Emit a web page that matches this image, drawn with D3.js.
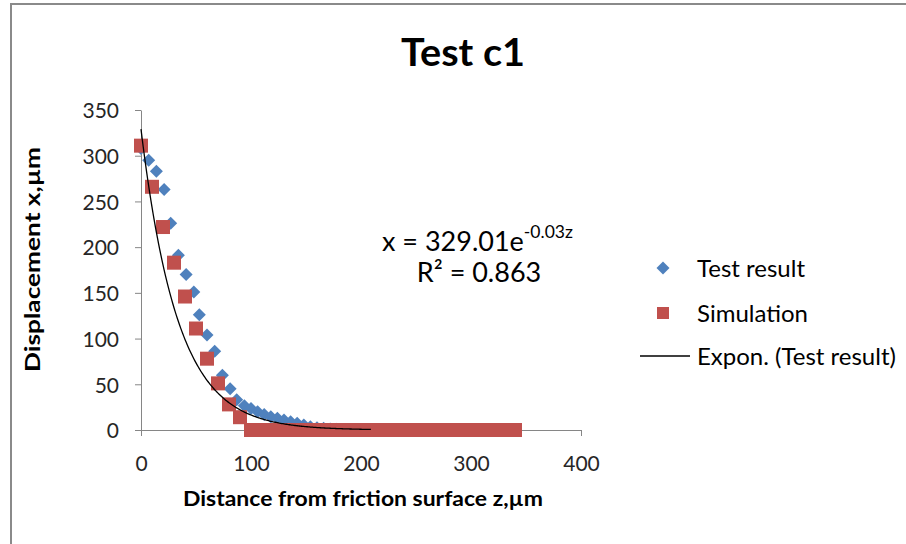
<!DOCTYPE html>
<html>
<head>
<meta charset="utf-8">
<script src="https://cdn.jsdelivr.net/npm/d3@7"></script>
<style>
  html, body { margin: 0; padding: 0; background: #fff; }
  svg { display: block; }
  text { font-family: Lato, "Open Sans", "DejaVu Sans", sans-serif; }
</style>
</head>
<body>
<svg id="chart" width="906" height="544"></svg>
<script>
// Measured displacement (Test result), z in µm
const testZ = [0, 7, 14, 21, 27, 34, 41, 48, 53, 60, 67, 74, 81, 87, 94, 100, 106, 112,
               118, 124, 130, 136, 142, 148, 154, 160, 166, 172, 178, 184, 190, 196, 202, 209];
const testX = [308, 295, 283, 263, 226, 191, 170, 151, 126, 104, 86, 60, 45, 33, 26.5, 23.5, 20, 17,
               14.5, 12.8, 11, 9, 7.3, 5.5, 3.6, 2.5, 1.8, 1.2, 0.8, 0.5, 0.3, 0.2, 0.1, 0];

// Simulated displacement
const simZ = [0, 10, 20, 30, 40, 50, 60, 70, 80, 90, 100, 110, 120, 130, 140, 150, 160, 170,
              180, 190, 200, 210, 220, 230, 240, 250, 260, 270, 280, 290, 300, 310, 320, 330, 340];
const simX = [311, 266, 222, 183, 146, 111, 78, 51, 28, 14, 0, 0, 0, 0, 0, 0, 0, 0,
              0, 0, 0, 0, 0, 0, 0, 0, 0, 0, 0, 0, 0, 0, 0, 0, 0];

// Exponential trendline of the test result: x = a * e^(b z)
const trendA = 329.01;
const trendB = -0.03;
const trendR2 = 0.863;
const trendZRange = [0, 209];

const xTicks = [0, 100, 200, 300, 400];
const yTicks = [0, 50, 100, 150, 200, 250, 300, 350];

const legendItems = ["Test result", "Simulation", "Expon. (Test result)"];

const blue = "#4F81BD", red = "#C0504D", axisGrey = "#868686", tickText = "#262626";

const svg = d3.select("#chart");

svg.append("rect").attr("width", 906).attr("height", 544).attr("fill", "#fff");
// chart frame
svg.append("rect")
  .attr("x", 11).attr("y", 4).attr("width", 1000).attr("height", 600)
  .attr("fill", "none").attr("stroke", "#8a8a8a").attr("stroke-width", 2);

const x = d3.scaleLinear().domain([0, 400]).range([141, 581]);
const y = d3.scaleLinear().domain([0, 350]).range([430, 110]);

// Title
svg.append("text")
  .attr("x", 463).attr("y", 66).attr("text-anchor", "middle")
  .attr("font-size", 39).attr("font-weight", "bold").attr("fill", "#000")
  .attr("textLength", 124).attr("lengthAdjust", "spacingAndGlyphs")
  .text("Test c1");

// Axes
const xAxis = svg.append("g")
  .attr("transform", `translate(0,${y(0)})`)
  .call(d3.axisBottom(x).tickValues(xTicks).tickSize(6).tickSizeOuter(0));
xAxis.selectAll("text").attr("y", 41).attr("dy", 0);

const yAxis = svg.append("g")
  .attr("transform", `translate(${x(0)},0)`)
  .call(d3.axisLeft(y).tickValues(yTicks).tickSize(6).tickSizeOuter(0).tickPadding(16));
yAxis.selectAll("text").attr("dy", "0.37em");

[xAxis, yAxis].forEach(g => {
  g.select(".domain").attr("stroke", axisGrey);
  g.selectAll(".tick line").attr("stroke", axisGrey);
  g.selectAll("text")
    .attr("font-family", "Lato, 'Open Sans', sans-serif")
    .attr("font-size", 21).attr("fill", tickText);
});

// Axis titles
svg.append("text")
  .attr("x", 363).attr("y", 506).attr("text-anchor", "middle")
  .attr("font-size", 21).attr("font-weight", "bold").attr("fill", "#000")
  .attr("textLength", 360).attr("lengthAdjust", "spacingAndGlyphs")
  .text("Distance from friction surface z,µm");

svg.append("text")
  .attr("transform", "translate(40,259.5) rotate(-90)")
  .attr("text-anchor", "middle")
  .attr("font-size", 21).attr("font-weight", "bold").attr("fill", "#000")
  .attr("textLength", 225).attr("lengthAdjust", "spacingAndGlyphs")
  .text("Displacement x,µm");

// Markers
const diamond = r => `M0,${-r}L${r},0L0,${r}L${-r},0Z`;

const testData = testZ.map((z, i) => ({ z, v: testX[i] }));
const simData = simZ.map((z, i) => ({ z, v: simX[i] }));

svg.append("g").selectAll("path")
  .data(testData).join("path")
  .attr("d", diamond(6.5))
  .attr("transform", d => `translate(${x(d.z)},${y(d.v)})`)
  .attr("fill", blue);

svg.append("g").selectAll("rect")
  .data(simData).join("rect")
  .attr("x", d => x(d.z) - 7).attr("y", d => y(d.v) - 7)
  .attr("width", 14).attr("height", 14)
  .attr("fill", red);

// Trendline
const trendPts = d3.range(trendZRange[0], trendZRange[1] + 0.5, 1)
  .map(z => ({ z, v: trendA * Math.exp(trendB * z) }));
svg.append("path")
  .datum(trendPts)
  .attr("fill", "none").attr("stroke", "#000").attr("stroke-width", 1.3)
  .attr("d", d3.line().x(d => x(d.z)).y(d => y(d.v)));

// Trendline equation
const eq = svg.append("text")
  .attr("x", 382).attr("y", 251)
  .attr("font-size", 27).attr("fill", "#000");
eq.append("tspan").text(`x = ${trendA.toFixed(2)}e`);
eq.append("tspan").attr("dy", -13).attr("font-size", 17.5).text(`${trendB}z`);

svg.append("text")
  .attr("x", 479).attr("y", 282).attr("text-anchor", "middle")
  .attr("font-size", 27).attr("fill", "#000")
  .text(`R² = ${trendR2}`);

// Legend
const legY = [268, 313, 356];
const leg = svg.append("g");
leg.append("path").attr("d", diamond(6.5)).attr("transform", `translate(663,${legY[0]})`).attr("fill", blue);
leg.append("rect").attr("x", 657).attr("y", legY[1] - 6).attr("width", 12).attr("height", 12).attr("fill", red);
leg.append("line").attr("x1", 640).attr("x2", 690).attr("y1", legY[2]).attr("y2", legY[2])
  .attr("stroke", "#000").attr("stroke-width", 1.3);
leg.selectAll("text").data(legendItems).join("text")
  .attr("x", 697).attr("y", (d, i) => legY[i] + 8.6)
  .attr("font-size", 24).attr("fill", "#000")
  .text(d => d);
</script>
</body>
</html>
